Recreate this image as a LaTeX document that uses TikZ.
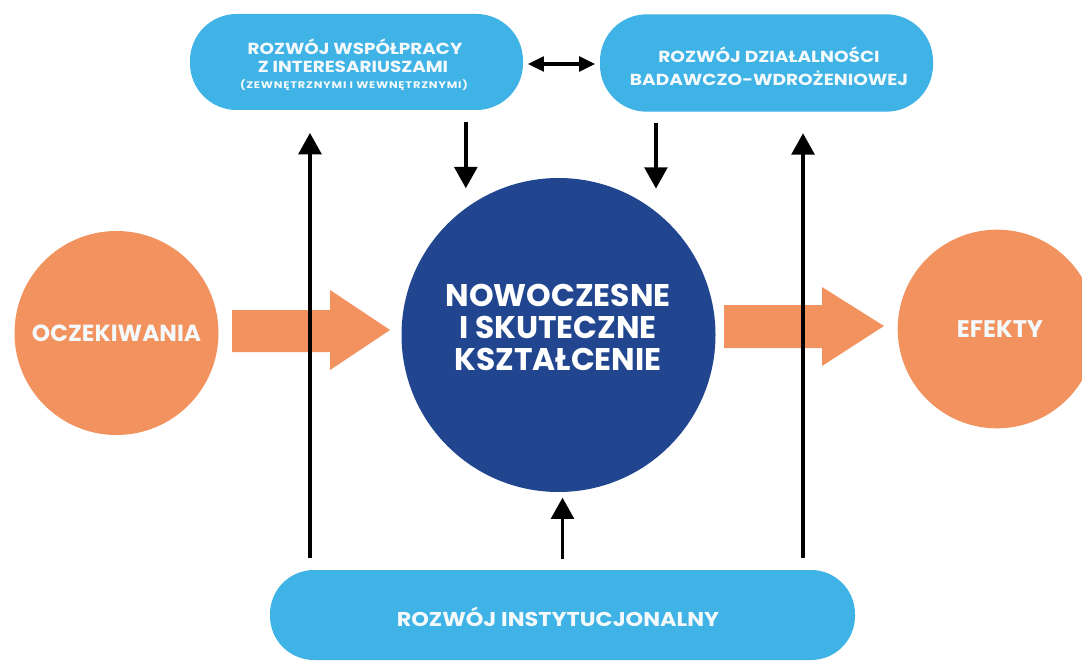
\documentclass[tikz,border=0pt]{standalone}
\usepackage{fontspec}
\setmainfont{Poppins}
\usetikzlibrary{arrows.meta}
\definecolor{skyb}{HTML}{3FB3E6}
\definecolor{navyb}{HTML}{21468F}
\definecolor{orng}{HTML}{F2925E}
\definecolor{txtw}{HTML}{F4F9FC}
\begin{document}
\begin{tikzpicture}[x=0.75pt,y=-0.75pt,
  pill/.style={fill=skyb, rounded corners=35pt, inner sep=0pt},
  ptxt/.style={text=txtw, align=center, inner sep=0pt},
  disc/.style={circle, fill=orng, text=txtw, align=center, inner sep=0pt},
  conn/.style={line width=2.8pt, -{Triangle[length=16pt,width=17pt]}},
  dconn/.style={line width=2.5pt, {Triangle[length=12pt,width=11pt]}-{Triangle[length=12pt,width=11pt]}},
  bigarr/.style={fill=orng}]
\useasboundingbox (0,0) rectangle (1082,663);
\fill[white] (0,0) rectangle (1082,663);

\node[pill, minimum width=249.75pt, minimum height=72pt] (wsp) at (356.5,62) {};
\node[ptxt, font={\bfseries\fontsize{12}{15}\selectfont\addfontfeatures{FakeStretch=1.15}}] (wspt1) at (355,47) {ROZWÓJ WSPÓŁPRACY};
\node[ptxt, font={\bfseries\fontsize{12}{15}\selectfont\addfontfeatures{FakeStretch=1.15}}] (wspt2) at (353,67) {Z INTERESARIUSZAMI};
\node[ptxt, font={\bfseries\fontsize{7.2}{9}\selectfont\addfontfeatures{FakeStretch=1.2,LetterSpace=8}}] (wspt3) at (354,85) {(ZEWNĘTRZNYMI I WEWNĘTRZNYMI)};

\node[pill, minimum width=249.75pt, minimum height=73pt] (bad) at (766.5,63) {};
\node[ptxt, font={\bfseries\fontsize{12}{17.25}\selectfont\addfontfeatures{FakeStretch=1.16}}] (badt) at (769,66)
  {ROZWÓJ DZIAŁALNOŚCI\\BADAWCZO-WDROŻENIOWEJ};

\node[pill, minimum width=438.75pt, minimum height=67.5pt, rounded corners=33pt] (inst) at (562.5,615) {};
\node[ptxt, font={\bfseries\fontsize{15}{16}\selectfont\addfontfeatures{FakeStretch=1.12}}] (instt) at (558,617) {ROZWÓJ INSTYTUCJONALNY};

\node[circle, fill=navyb, inner sep=0pt, minimum size=235.5pt] (ctr) at (558.5,335) {};
\node[text=white, align=center, inner sep=0pt, font={\bfseries\fontsize{23.5}{24}\selectfont}] (ctrt) at (558,327)
  {NOWOCZESNE\\I SKUTECZNE\\KSZTAŁCENIE};

\node[disc, minimum size=153pt, font={\bfseries\fontsize{17.5}{18}\selectfont}] (oc) at (116.5,333) {OCZEKIWANIA};
\node[disc, minimum size=149pt] (ef) at (997,329) {};
\node[ptxt, font={\bfseries\fontsize{18}{18}\selectfont}] (eft) at (1000,329) {EFEKTY};

% big arrows
\fill[bigarr] (232,310) -- (330,310) -- (330,290) -- (390,330) -- (330,370) -- (330,352) -- (232,352) -- cycle;
\fill[bigarr] (724,305) -- (822,305) -- (822,287) -- (884,326) -- (822,366) -- (822,348) -- (724,348) -- cycle;

% verticals
\coordinate (l1) at ([xshift=-189.4pt,yshift=9pt]inst.north);
\coordinate (r1) at ([xshift=180.4pt,yshift=9pt]inst.north);
\draw[conn] (l1) -- ([yshift=-17pt]l1 |- wsp.south);
\draw[conn] (r1) -- ([yshift=-16pt]r1 |- bad.south);
\draw[conn] ([yshift=8pt]inst.north) -- ([yshift=-4pt]ctr.south -| inst.north);

% down arrows
\draw[conn] ([xshift=82pt,yshift=-9pt]wsp.south) -- ++(0,66);
\draw[conn] ([xshift=-82.9pt,yshift=-8pt]bad.south) -- ++(0,66);

% double arrow
\draw[dconn] ([xshift=3.5pt,yshift=-1.5pt]wsp.east) -- ([xshift=-3.5pt,yshift=-0.75pt]bad.west);
\end{tikzpicture}
\end{document}
